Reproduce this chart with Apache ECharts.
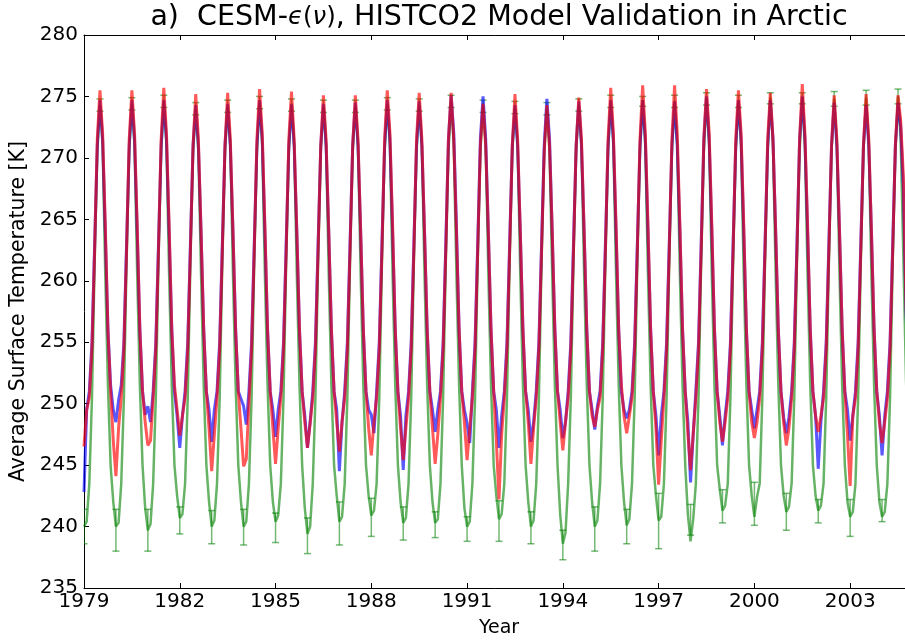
<!DOCTYPE html>
<html>
<head>
<meta charset="utf-8">
<script src="https://cdn.jsdelivr.net/npm/echarts@6/dist/echarts.min.js"></script>
<style>
html,body{margin:0;padding:0;background:#fff;}
#chart{width:905px;height:640px;}
</style>
</head>
<body>
<div id="chart"></div>
<script>
// Years shown (monthly data, Jan..Dec for each year)
const years = [1979,1980,1981,1982,1983,1984,1985,1986,1987,1988,1989,1990,1991,1992,1993,1994,1995,1996,1997,1998,1999,2000,2001,2002,2003,2004];
const xTickLabels = ['1979','1982','1985','1988','1991','1994','1997','2000','2003'];

// Red model series, K (rows: years, columns: Jan..Dec)
const redRows = [
[246.5,249.5,250.5,254.5,262.5,271.5,275.5,272.0,264.5,256.0,251.0,247.0],
[244.1,248.0,250.5,254.5,262.5,271.5,275.5,272.0,264.5,256.0,251.0,248.5],
[246.6,247.0,250.5,254.5,262.5,271.5,275.7,272.0,264.5,256.0,251.5,249.5],
[247.4,249.0,250.5,254.5,262.5,271.0,275.2,271.5,264.0,256.0,251.0,248.0],
[244.5,247.5,250.5,254.5,262.5,271.0,275.3,271.5,264.0,256.0,251.0,248.0],
[244.9,245.5,250.0,254.5,262.5,271.5,275.6,272.0,264.5,256.0,251.0,248.0],
[245.1,248.0,250.5,254.5,262.5,271.5,275.4,271.5,264.0,256.0,251.0,248.5],
[246.4,248.4,250.5,254.5,262.5,271.0,275.1,271.5,264.0,256.0,251.0,248.5],
[246.1,248.5,250.5,254.5,262.5,271.0,275.1,271.5,264.0,256.0,251.0,248.0],
[245.8,248.5,250.5,254.5,262.5,271.5,275.5,272.0,264.5,256.0,251.0,248.0],
[245.4,248.0,250.5,254.5,262.5,271.5,275.3,271.5,264.0,256.0,251.0,248.0],
[245.1,247.5,250.5,254.5,262.5,271.5,275.3,271.5,264.0,256.0,251.0,248.5],
[245.4,248.0,250.5,254.5,262.5,271.0,274.4,271.0,264.0,256.0,251.0,247.0],
[242.2,247.5,250.5,254.5,262.5,271.0,275.2,271.5,264.0,256.0,251.0,248.5],
[245.1,248.0,250.5,254.5,262.5,270.5,274.3,271.0,264.0,256.0,251.0,248.5],
[246.2,248.5,250.5,254.5,262.5,271.0,274.9,271.5,264.0,256.0,251.0,249.0],
[248.1,249.5,250.5,254.5,262.5,271.5,275.7,272.0,264.5,256.0,251.5,249.0],
[247.6,249.0,250.5,254.5,262.5,271.5,275.9,272.0,264.5,256.0,251.0,248.0],
[243.4,247.0,250.5,254.5,262.5,271.5,275.9,272.0,264.5,256.0,251.0,247.6],
[244.6,247.5,250.5,254.5,262.5,271.5,275.6,272.0,264.5,256.0,251.0,248.5],
[246.9,248.5,250.5,254.5,262.5,271.5,275.5,272.0,264.5,256.0,251.0,248.5],
[247.2,248.5,250.5,254.5,262.5,271.5,275.3,271.5,264.0,256.0,251.0,248.5],
[246.6,248.0,250.5,254.5,262.5,271.5,276.0,272.0,264.5,256.0,251.0,249.0],
[247.7,249.0,250.5,254.5,262.5,271.0,275.1,271.5,264.0,256.0,251.0,247.5],
[243.3,249.0,250.5,254.5,262.5,271.0,275.2,271.5,264.0,256.0,251.0,248.5],
[246.8,248.5,250.5,254.5,262.5,271.0,275.1,273.0,268.5,258.0,252.0,249.0]
];

// Blue model series, K
const blueRows = [
[242.8,249.5,251.0,255.0,263.0,271.0,274.7,271.5,264.0,256.0,251.5,249.5],
[248.5,250.3,251.5,255.0,263.0,271.0,274.7,271.5,264.0,256.0,251.0,249.1],
[249.8,248.5,251.0,255.0,263.0,271.0,274.7,271.5,264.0,256.0,251.0,249.0],
[246.4,249.0,251.0,255.0,263.0,271.0,274.3,271.0,264.0,256.0,251.0,249.5],
[246.9,249.5,251.0,255.0,263.0,271.0,274.4,271.0,264.0,256.0,251.0,250.4],
[249.8,248.3,251.0,255.0,263.0,271.0,274.7,271.5,264.0,256.0,251.0,249.5],
[247.3,249.5,251.0,255.0,263.0,271.0,274.4,271.0,264.0,256.0,251.0,249.0],
[246.4,248.5,251.0,255.0,263.0,271.0,274.4,271.0,264.0,256.0,251.0,249.5],
[244.5,248.5,251.0,255.0,263.0,271.0,274.5,271.0,264.0,256.0,251.0,249.5],
[249.1,247.6,251.0,255.0,263.0,271.0,274.7,271.5,264.0,256.0,251.0,249.0],
[244.6,249.0,251.0,255.0,263.0,271.0,274.6,271.0,264.0,256.0,251.0,249.5],
[247.7,249.5,251.0,255.0,263.0,271.5,275.1,272.0,264.5,256.0,251.0,249.5],
[248.4,246.8,251.0,255.0,263.0,271.5,275.0,271.5,264.0,256.0,251.0,249.5],
[246.4,249.0,251.0,255.0,263.0,271.0,274.3,271.0,264.0,256.0,251.0,249.5],
[246.9,248.5,251.0,255.0,263.0,271.0,274.8,271.5,264.0,256.0,251.0,249.5],
[247.2,248.5,251.0,255.0,263.0,271.0,274.6,271.0,264.0,256.0,251.0,249.5],
[247.9,249.8,251.0,255.0,263.0,271.0,274.7,271.5,264.0,256.0,251.0,249.5],
[248.8,249.5,251.0,255.0,263.0,271.0,274.7,271.5,264.0,256.0,251.0,249.0],
[245.8,249.0,251.0,255.0,263.0,271.0,274.6,271.0,264.0,256.0,251.0,248.5],
[243.6,247.5,251.0,255.0,263.0,271.5,275.0,271.5,264.0,256.0,251.0,249.0],
[246.6,249.0,251.0,255.0,263.0,271.0,274.7,271.5,264.0,256.0,251.0,249.5],
[248.0,249.5,251.0,255.0,263.0,271.0,274.7,271.5,264.0,256.0,251.0,248.9],
[247.6,248.9,251.0,255.0,263.0,271.5,275.0,271.5,264.0,256.0,251.0,249.0],
[244.7,248.5,251.0,255.0,263.0,271.0,274.5,271.0,264.0,256.0,251.0,249.5],
[247.0,249.0,251.0,255.0,263.0,271.0,274.3,271.0,264.0,256.0,251.0,249.0],
[245.8,249.0,251.0,255.0,263.0,271.0,274.5,272.5,267.5,257.5,252.0,249.5]
];

// Green observed series, K
const greenRows = [
[240.0,240.4,243.5,250.5,261.5,270.5,274.3,271.0,260.5,251.5,245.0,242.0],
[240.0,240.3,243.5,250.5,261.5,270.5,274.4,271.0,260.5,251.5,245.0,241.5],
[239.7,240.2,243.5,250.5,261.5,270.5,274.6,271.0,260.5,251.5,245.0,242.5],
[240.7,241.0,243.5,250.5,261.5,270.5,274.0,270.5,260.5,251.5,245.0,242.0],
[240.0,240.5,243.5,250.5,261.5,270.5,274.2,271.0,260.5,251.5,245.0,242.0],
[240.0,240.4,243.5,250.5,261.5,270.5,274.5,271.0,260.5,251.5,245.0,242.0],
[240.4,240.9,243.5,250.5,261.5,270.5,274.3,271.0,260.5,251.5,245.0,241.5],
[239.4,240.0,243.5,250.5,261.5,270.5,274.2,271.0,260.5,251.5,245.0,242.5],
[240.4,240.8,243.5,250.5,261.5,270.5,274.2,271.0,260.5,251.5,245.0,242.5],
[240.9,241.3,243.5,250.5,261.5,270.5,274.4,271.0,260.5,251.5,245.0,242.0],
[240.3,240.7,243.5,250.5,261.5,270.5,274.3,271.0,260.5,251.5,245.0,242.0],
[240.3,240.6,243.5,250.5,261.5,270.5,274.6,271.0,260.5,251.5,245.0,241.5],
[240.0,240.4,243.5,250.5,261.5,270.5,274.2,271.0,260.5,251.5,245.0,242.5],
[240.6,241.0,243.5,250.5,261.5,270.5,274.1,271.0,260.5,251.5,245.0,242.0],
[240.0,240.5,243.5,250.5,261.5,270.5,274.0,270.5,260.5,251.5,245.0,241.0],
[238.6,239.5,243.5,250.5,261.5,270.5,274.3,271.0,260.5,251.5,245.0,242.0],
[240.0,240.5,243.5,250.5,261.5,270.5,274.6,271.0,260.5,251.5,245.0,242.0],
[240.1,240.6,243.5,250.5,261.5,270.5,274.7,271.0,260.5,251.5,245.0,242.5],
[240.5,240.8,243.5,250.5,261.5,270.5,274.6,271.0,260.5,251.5,245.0,241.0],
[238.8,240.6,243.5,250.5,261.5,270.5,274.8,271.0,260.5,251.5,245.0,243.0],
[241.3,241.7,243.5,250.5,261.5,270.5,274.6,271.0,260.5,251.5,245.0,242.5],
[240.8,242.4,243.5,250.5,261.5,270.5,274.9,271.0,260.5,251.5,245.0,242.5],
[241.2,241.6,243.5,250.5,261.5,270.5,274.9,271.0,260.5,251.5,245.0,242.5],
[241.3,241.7,243.5,250.5,261.5,270.5,274.8,271.0,260.5,251.5,245.0,242.0],
[240.8,241.2,243.5,250.5,261.5,270.5,274.9,271.0,260.5,251.5,245.0,242.0],
[240.8,241.2,243.5,250.5,261.5,270.5,275.0,271.5,262.0,252.0,245.0,242.0]
];

// Green error bars: winter (January) low/high and summer (July) low/high, K
const winterErrLo = [238.6,238.0,238.0,239.4,238.6,238.5,238.7,237.8,238.5,239.2,238.9,239.1,238.8,238.8,238.6,237.3,238.0,238.6,238.2,239.3,240.3,240.1,239.7,240.3,239.2,240.4];
const winterErrHi = [241.4,241.4,241.4,241.6,241.3,241.4,241.1,240.7,242.0,242.3,241.6,241.2,240.8,242.1,241.2,239.7,241.6,241.4,242.7,241.8,243.0,243.6,242.7,242.2,242.2,242.2];
const summerErrLo = [273.8,273.9,274.1,273.5,273.7,274.0,273.8,273.7,273.7,273.9,273.8,274.1,273.7,273.6,273.5,273.8,274.1,274.2,274.1,274.3,274.1,274.4,274.4,274.2,274.3,274.4];
const summerErrHi = [274.8,274.9,275.1,274.5,274.7,275.0,274.8,274.7,274.7,274.9,274.8,275.1,274.7,274.6,274.5,274.8,275.1,275.0,275.1,275.3,275.1,275.3,275.3,275.4,275.5,275.6];

const yTicks = {min: 235, max: 280, step: 5};

function toSeries(rows) {
  const out = [];
  rows.forEach((row, i) => row.forEach((v, m) => out.push([i + m / 12, v])));
  return out;
}
const errData = [];
years.forEach((y, i) => {
  errData.push([i, winterErrLo[i], winterErrHi[i]]);
  errData.push([i + 6 / 12, summerErrLo[i], summerErrHi[i]]);
});

const FONT = 'DejaVu Sans';
const chart = echarts.init(document.getElementById('chart'), null, {renderer: 'canvas'});

const xBase = {
  type: 'value', min: 0, max: years.length, interval: 3,
  splitLine: {show: false},
  axisLine: {show: true, onZero: false, lineStyle: {color: '#000', width: 1}},
  axisTick: {show: true, inside: true, length: 5, lineStyle: {color: '#000'}}
};
const yBase = {
  type: 'value', min: yTicks.min, max: yTicks.max, interval: yTicks.step,
  splitLine: {show: false},
  axisLine: {show: true, onZero: false, lineStyle: {color: '#000', width: 1}},
  axisTick: {show: true, inside: true, length: 5, lineStyle: {color: '#000'}}
};

chart.setOption({
  animation: false,
  backgroundColor: '#fff',
  title: {
    text: 'a)  CESM-{i|ϵ}{n|(}{i|ν}{n|)}, HISTCO2 Model Validation in Arctic',
    left: 499, top: 3, textAlign: 'center', padding: 0,
    textStyle: {
      fontFamily: FONT, fontSize: 28.5, fontWeight: 'normal', color: '#000',
      rich: {
        i: {fontFamily: FONT, fontSize: 24.5, fontStyle: 'italic', color: '#000'},
        n: {fontFamily: FONT, fontSize: 24.5, color: '#000'}
      }
    }
  },
  grid: {left: 84, top: 35, width: 830, height: 553, containLabel: false, outerBoundsMode: 'none'},
  xAxis: [
    Object.assign({}, xBase, {
      position: 'bottom',
      name: 'Year', nameLocation: 'middle', nameGap: 31,
      nameTextStyle: {fontFamily: FONT, fontSize: 19, color: '#000'},
      axisLabel: {
        show: true, margin: 4, fontFamily: FONT, fontSize: 20, color: '#000',
        formatter: v => { const s = String(years[0] + v); return xTickLabels.indexOf(s) >= 0 ? s : ''; }
      }
    }),
    Object.assign({}, xBase, {position: 'top', axisLabel: {show: false}})
  ],
  yAxis: [
    Object.assign({}, yBase, {
      position: 'left',
      name: 'Average Surface Temperature [K]', nameLocation: 'middle', nameGap: 52,
      nameTextStyle: {fontFamily: FONT, fontSize: 20.5, color: '#000'},
      axisLabel: {show: true, margin: 6, fontFamily: FONT, fontSize: 20, color: '#000'}
    }),
    Object.assign({}, yBase, {position: 'right', axisLabel: {show: false}})
  ],
  series: [
    {
      type: 'line', data: toSeries(greenRows), showSymbol: false, clip: true,
      lineStyle: {color: 'rgba(0,128,0,0.6)', width: 2.5}, z: 2
    },
    {
      type: 'custom', data: errData, clip: true, z: 3,
      encode: {x: 0, y: [1, 2]},
      renderItem: function (params, api) {
        const x = api.value(0);
        const lo = api.coord([x, api.value(1)]);
        const hi = api.coord([x, api.value(2)]);
        const w = 3.5;
        const st = {stroke: 'rgba(0,128,0,0.55)', lineWidth: 1.5, fill: null};
        return {
          type: 'group',
          children: [
            {type: 'line', shape: {x1: lo[0], y1: lo[1], x2: hi[0], y2: hi[1]}, style: st},
            {type: 'line', shape: {x1: lo[0] - w, y1: lo[1], x2: lo[0] + w, y2: lo[1]}, style: st},
            {type: 'line', shape: {x1: hi[0] - w, y1: hi[1], x2: hi[0] + w, y2: hi[1]}, style: st}
          ]
        };
      }
    },
    {
      type: 'line', data: toSeries(blueRows), showSymbol: false, clip: true,
      lineStyle: {color: 'rgba(0,0,255,0.65)', width: 3}, z: 4
    },
    {
      type: 'line', data: toSeries(redRows), showSymbol: false, clip: true,
      lineStyle: {color: 'rgba(255,0,0,0.65)', width: 3}, z: 5
    }
  ]
});
</script>
</body>
</html>
